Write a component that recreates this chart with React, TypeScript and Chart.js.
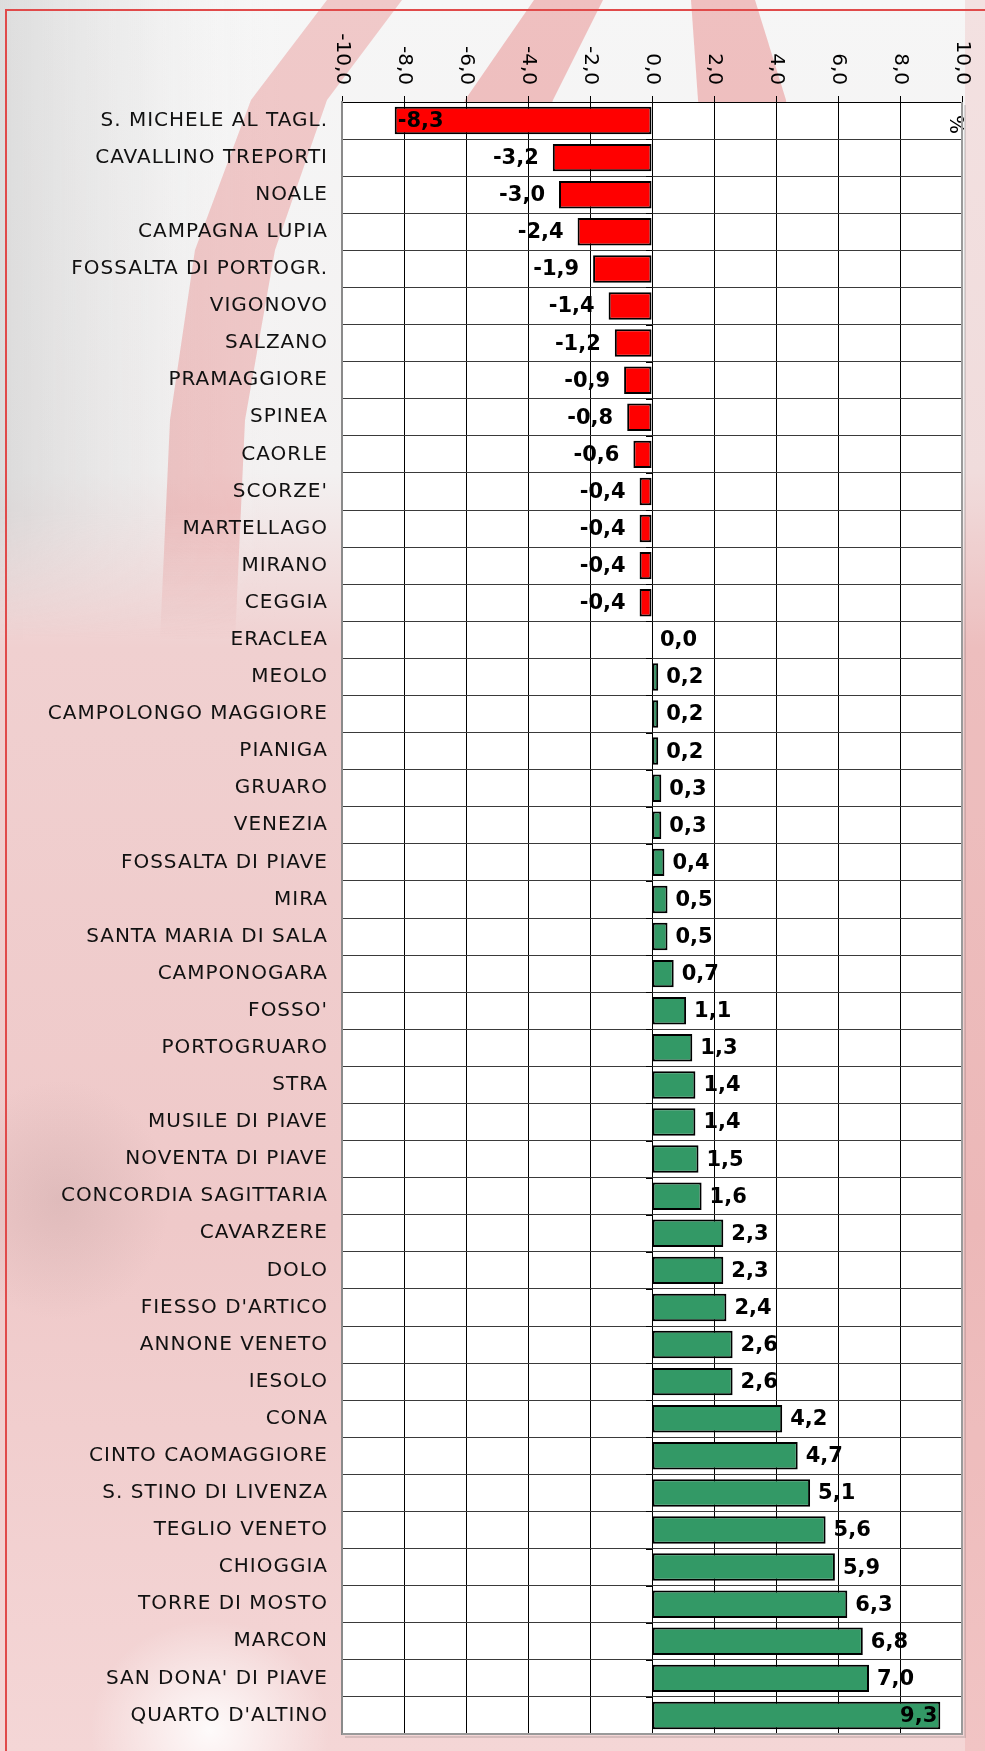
import React, { useEffect, useRef } from "react";
import { Chart, registerables } from "chart.js";

Chart.register(...registerables);

const categories = [
  "S. MICHELE AL TAGL.",
  "CAVALLINO TREPORTI",
  "NOALE",
  "CAMPAGNA LUPIA",
  "FOSSALTA DI PORTOGR.",
  "VIGONOVO",
  "SALZANO",
  "PRAMAGGIORE",
  "SPINEA",
  "CAORLE",
  "SCORZE'",
  "MARTELLAGO",
  "MIRANO",
  "CEGGIA",
  "ERACLEA",
  "MEOLO",
  "CAMPOLONGO MAGGIORE",
  "PIANIGA",
  "GRUARO",
  "VENEZIA",
  "FOSSALTA DI PIAVE",
  "MIRA",
  "SANTA MARIA DI SALA",
  "CAMPONOGARA",
  "FOSSO'",
  "PORTOGRUARO",
  "STRA",
  "MUSILE DI PIAVE",
  "NOVENTA DI PIAVE",
  "CONCORDIA SAGITTARIA",
  "CAVARZERE",
  "DOLO",
  "FIESSO D'ARTICO",
  "ANNONE VENETO",
  "IESOLO",
  "CONA",
  "CINTO CAOMAGGIORE",
  "S. STINO DI LIVENZA",
  "TEGLIO VENETO",
  "CHIOGGIA",
  "TORRE DI MOSTO",
  "MARCON",
  "SAN DONA' DI PIAVE",
  "QUARTO D'ALTINO",
];

const values = [
  -8.3, -3.2, -3.0, -2.4, -1.9, -1.4, -1.2, -0.9, -0.8, -0.6, -0.4, -0.4, -0.4, -0.4,
  0.0, 0.2, 0.2, 0.2, 0.3, 0.3, 0.4, 0.5, 0.5, 0.7, 1.1, 1.3, 1.4, 1.4, 1.5, 1.6,
  2.3, 2.3, 2.4, 2.6, 2.6, 4.2, 4.7, 5.1, 5.6, 5.9, 6.3, 6.8, 7.0, 9.3,
];

const xTickValues = [-10, -8, -6, -4, -2, 0, 2, 4, 6, 8, 10];
const xTickLabels = ["-10,0", "-8,0", "-6,0", "-4,0", "-2,0", "0,0", "2,0", "4,0", "6,0", "8,0", "10,0"];
const unitLabel = "%";

const NEG_COLOR = "#FF0000";
const POS_COLOR = "#339966";
const FONT = '"DejaVu Sans", Verdana, sans-serif';

const fmt = (v: number) => v.toFixed(1).replace(".", ",");

const decorPlugin = {
  id: "decor",
  beforeDraw(chart: any) {
    const { ctx, chartArea } = chart;
    ctx.save();
    ctx.fillStyle = "#ffffff";
    ctx.fillRect(chartArea.left, chartArea.top, chartArea.right - chartArea.left, chartArea.bottom - chartArea.top);
    ctx.restore();
    ctx.letterSpacing = "1px";
  },
  beforeDatasetsDraw(chart: any) {
    chart.ctx.letterSpacing = "0px";
  },
  afterDatasetsDraw(chart: any) {
    const { ctx, chartArea } = chart;
    const xs = chart.scales.x;
    const ys = chart.scales.y;
    const meta = chart.getDatasetMeta(0);
    ctx.save();
    ctx.letterSpacing = "0px";

    // small tick marks of the category axis on the zero line
    const x0 = xs.getPixelForValue(0);
    const step = ys.getPixelForValue(1) - ys.getPixelForValue(0);
    ctx.strokeStyle = "#000";
    ctx.lineWidth = 1;
    for (let i = 0; i <= categories.length; i++) {
      const y = Math.round(ys.getPixelForValue(i) - step / 2) + 0.5;
      ctx.beginPath();
      ctx.moveTo(x0 - 6, y);
      ctx.lineTo(x0, y);
      ctx.stroke();
    }

    // data labels
    ctx.font = `bold 21px ${FONT}`;
    ctx.fillStyle = "#000";
    ctx.textBaseline = "middle";
    meta.data.forEach((bar: any, i: number) => {
      const v = values[i];
      const txt = fmt(v);
      const w = ctx.measureText(txt).width;
      const end = bar.x;
      const y = bar.y + 1;
      if (v < 0) {
        const right = end - 14;
        if (right - w < chartArea.left) {
          ctx.textAlign = "left";
          ctx.fillText(txt, end + 3, y);
        } else {
          ctx.textAlign = "right";
          ctx.fillText(txt, right, y);
        }
      } else {
        const left = end + 8;
        if (left + w > chartArea.right) {
          ctx.textAlign = "right";
          ctx.fillText(txt, end - 3, y);
        } else {
          ctx.textAlign = "left";
          ctx.fillText(txt, left, y);
        }
      }
    });

    // top axis tick labels, rotated clockwise
    ctx.font = `20px ${FONT}`;
    ctx.textBaseline = "middle";
    xTickValues.forEach((v, i) => {
      const x = xs.getPixelForValue(v);
      ctx.save();
      ctx.translate(x, 85);
      ctx.rotate(Math.PI / 2);
      ctx.textAlign = "right";
      ctx.fillText(xTickLabels[i], 0, 0);
      ctx.restore();
    });
    // unit label
    ctx.save();
    ctx.translate(chartArea.right - 7, chartArea.top + 13);
    ctx.rotate(Math.PI / 2);
    ctx.textAlign = "left";
    ctx.fillText(unitLabel, 0, 0);
    ctx.restore();

    // plot area right / bottom frame with soft shadow
    ctx.strokeStyle = "rgba(0,0,0,0.12)";
    ctx.lineWidth = 2;
    ctx.beginPath();
    ctx.moveTo(chartArea.right + 3, chartArea.top + 3);
    ctx.lineTo(chartArea.right + 3, chartArea.bottom + 3);
    ctx.lineTo(chartArea.left + 3, chartArea.bottom + 3);
    ctx.stroke();
    ctx.strokeStyle = "#9a9a9a";
    ctx.lineWidth = 2;
    ctx.beginPath();
    ctx.moveTo(chartArea.right, chartArea.top);
    ctx.lineTo(chartArea.right, chartArea.bottom);
    ctx.lineTo(chartArea.left, chartArea.bottom);
    ctx.stroke();
    ctx.restore();
  },
};

function Background() {
  return (
    <svg
      width={985}
      height={1751}
      style={{ position: "absolute", left: 0, top: 0 }}
      xmlns="http://www.w3.org/2000/svg"
    >
      <defs>
        <linearGradient id="vert" x1="0" y1="0" x2="0" y2="1">
          <stop offset="0" stopColor="#f6f6f6" />
          <stop offset="0.27" stopColor="#f3f1f1" />
          <stop offset="0.37" stopColor="#f0d0d0" />
          <stop offset="0.7" stopColor="#efc9c9" />
          <stop offset="1" stopColor="#f4d6d6" />
        </linearGradient>
        <linearGradient id="leftGray" x1="0" y1="0" x2="1" y2="0">
          <stop offset="0" stopColor="#c8c8c8" stopOpacity="0.55" />
          <stop offset="0.5" stopColor="#d8d8d8" stopOpacity="0.25" />
          <stop offset="1" stopColor="#ffffff" stopOpacity="0" />
        </linearGradient>
        <linearGradient id="leftGrayFade" x1="0" y1="0" x2="0" y2="1">
          <stop offset="0" stopColor="#fff" stopOpacity="1" />
          <stop offset="0.8" stopColor="#fff" stopOpacity="1" />
          <stop offset="1" stopColor="#fff" stopOpacity="0" />
        </linearGradient>
        <mask id="fadeMask">
          <rect x={0} y={0} width={600} height={640} fill="url(#leftGrayFade)" />
        </mask>
        <radialGradient id="spot" cx="0.5" cy="0.5" r="0.5">
          <stop offset="0" stopColor="#ffffff" stopOpacity="0.9" />
          <stop offset="1" stopColor="#ffffff" stopOpacity="0" />
        </radialGradient>
        <radialGradient id="darkPatch" cx="0.5" cy="0.5" r="0.5">
          <stop offset="0" stopColor="#b09090" stopOpacity="0.25" />
          <stop offset="1" stopColor="#b09090" stopOpacity="0" />
        </radialGradient>
      </defs>
      <rect x={0} y={0} width={985} height={1751} fill="url(#vert)" />
      <rect x={0} y={0} width={280} height={640} fill="url(#leftGray)" mask="url(#fadeMask)" />
      <path
        d="M327,0 L402,0 L327,100 L275,250 L245,420 L235,640 L160,640 L170,420 L195,250 L251,100 Z"
        fill="rgba(220,40,40,0.22)"
        mask="url(#fadeMask)"
      />
      <path d="M534,0 L603,0 L553,100 L500,260 L430,260 L465,100 Z" fill="rgba(220,40,40,0.26)" />
      <path d="M691,0 L755,0 L786,100 L800,260 L720,260 L698,100 Z" fill="rgba(220,40,40,0.26)" />
      <rect x={965} y={0} width={20} height={1751} fill="rgba(220,40,40,0.10)" />
      <ellipse cx={60} cy={1200} rx={110} ry={120} fill="url(#darkPatch)" />
      <ellipse cx={210} cy={1730} rx={120} ry={110} fill="url(#spot)" />
    </svg>
  );
}

export default function App() {
  const canvasRef = useRef<HTMLCanvasElement | null>(null);

  useEffect(() => {
    document.body.style.margin = "0";
    const canvas = canvasRef.current;
    if (!canvas) return;
    const chart = new Chart(canvas, {
      type: "bar",
      data: {
        labels: categories,
        datasets: [
          {
            data: values,
            backgroundColor: values.map((v) => (v < 0 ? NEG_COLOR : POS_COLOR)),
            borderColor: "#000000",
            borderWidth: 2,
            borderSkipped: false,
            barPercentage: 0.74,
            categoryPercentage: 1,
          },
        ],
      },
      options: {
        indexAxis: "y",
        responsive: false,
        animation: false,
        devicePixelRatio: 1,
        layout: { padding: { left: 0, right: 23, top: 0, bottom: 17 } },
        plugins: {
          legend: { display: false },
          tooltip: { enabled: false },
        },
        scales: {
          x: {
            position: "top",
            min: -10,
            max: 10,
            ticks: { stepSize: 2, display: false },
            grid: { color: "#000000", lineWidth: 1, drawTicks: true, tickLength: 6 },
            border: { color: "#000000", width: 1 },
            afterFit: (s: any) => {
              s.height = 102;
              s.paddingLeft = 0;
              s.paddingRight = 0;
            },
          },
          y: {
            ticks: {
              font: { family: FONT, size: 20 },
              color: "#111111",
              padding: 14,
            },
            grid: { color: "#3a3a3a", lineWidth: 1, drawTicks: false, offset: true },
            border: { color: "#8a8a8a", width: 2 },
            afterFit: (s: any) => {
              s.width = 342;
              s.paddingTop = 0;
              s.paddingBottom = 0;
            },
          },
        },
      } as any,
      plugins: [decorPlugin],
    });
    return () => chart.destroy();
  }, []);

  return (
    <div style={{ position: "relative", width: 985, height: 1751, overflow: "hidden" }}>
      <Background />
      <div
        style={{
          position: "absolute",
          left: 5,
          top: 9,
          width: 2000,
          height: 2000,
          borderTop: "2px solid #e04a4a",
          borderLeft: "2px solid #e04a4a",
        }}
      />
      <canvas
        ref={canvasRef}
        width={985}
        height={1751}
        style={{ position: "absolute", left: 0, top: 0, display: "block" }}
      />
    </div>
  );
}
